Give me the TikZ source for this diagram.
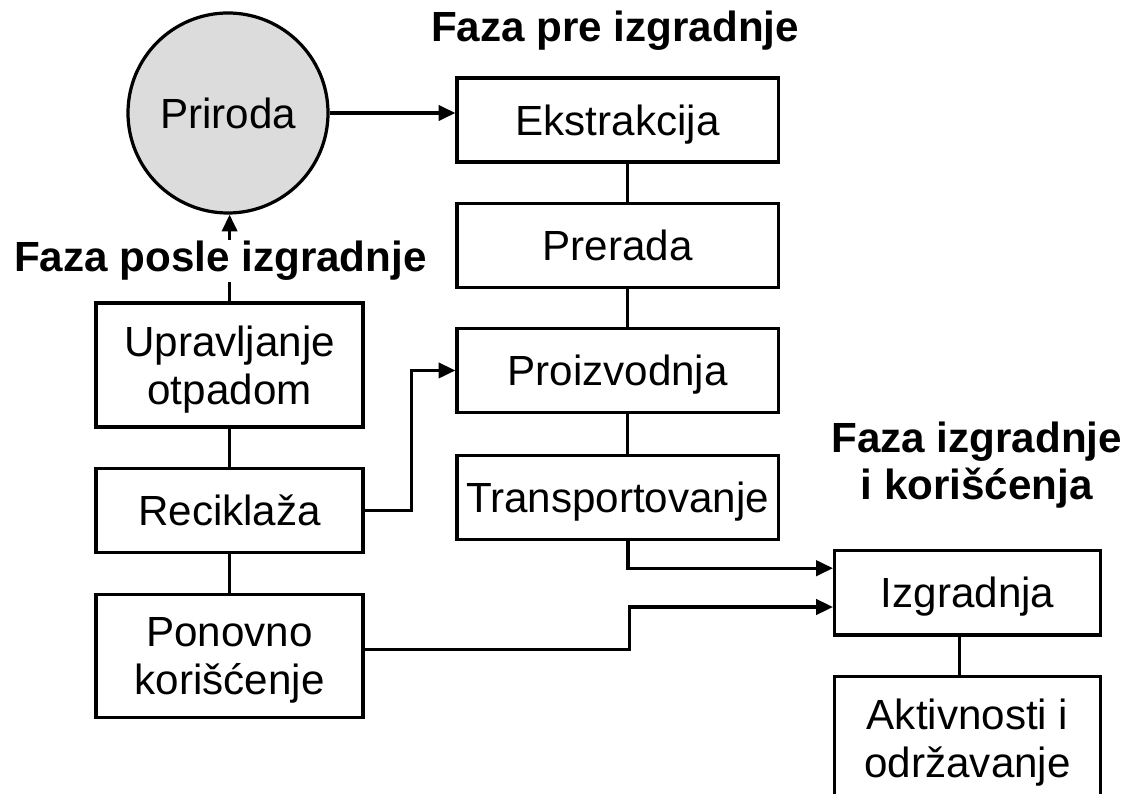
\documentclass[tikz,border=0pt]{standalone}
\usepackage{fontspec}
\setmainfont{Liberation Sans}
\usepackage{tikz}
\usetikzlibrary{arrows.meta,positioning,calc}
\definecolor{naturegray}{HTML}{DCDCDC}

\begin{document}
\begin{tikzpicture}[
    x=1cm,y=1cm,
    line join=miter,
    stagebox/.style={draw=black, line width=2.3pt, fill=white, inner sep=2pt, align=center, text depth=0pt, font=\fontsize{30}{34.5}\selectfont},
    colbox/.style={stagebox, minimum width=8.03cm, minimum height=2.1cm},
    leftbox/.style={stagebox, minimum width=6.675cm},
    rightbox/.style={stagebox, minimum width=6.65cm},
    nature/.style={circle, draw=black, line width=2.3pt, fill=naturegray, minimum size=5cm, inner sep=0pt, font=\fontsize{30}{34.5}\selectfont},
    phase/.style={font=\bfseries\fontsize{30}{34}\selectfont, align=center},
    flow/.style={-{Triangle[length=4.2mm,width=3.8mm]}, line width=2.3pt},
    link/.style={line width=2.3pt}
]
\useasboundingbox (0,0) rectangle (28.15,19.825);

% Nature
\node[nature] (pri) at (5.70,17.0) {Priroda};

% Pre-construction column
\node[colbox] (ekst) at (15.44,16.825) {Ekstrakcija};
\node[colbox, below=0.95cm of ekst] (prer) {Prerada};
\node[colbox, below=0.95cm of prer] (proiz) {Proizvodnja};
\node[colbox, below=1.0cm of proiz] (trans) {Transportovanje};

% Post-construction column
\node[leftbox, minimum height=3.1cm] (upr) at (5.74,10.7) {Upravljanje\\otpadom};
\node[leftbox, minimum height=2.1cm, below=0.95cm of upr] (rec) {Reciklaža};
\node[leftbox, minimum height=3.08cm, below=0.97cm of rec] (pon) {Ponovno\\korišćenje};

% Construction and use column
\node[rightbox, minimum height=2.12cm] (izg) at (24.19,5.01) {Izgradnja};
\node[rightbox, minimum height=3.1cm, below=0.95cm of izg] (akt) {Aktivnosti i\\održavanje};

% Connectors
\draw[flow] (pri.east) -- (pri.east -| ekst.west);
\draw[link] ([xshift=0.24cm]ekst.south) -- ([xshift=0.24cm]prer.north);
\draw[link] ([xshift=0.24cm]prer.south) -- ([xshift=0.24cm]proiz.north);
\draw[link] ([xshift=0.24cm]proiz.south) -- ([xshift=0.24cm]trans.north);
\draw[link] (upr.south) -- (rec.north);
\draw[link] (rec.south) -- (pon.north);
\draw[link] ([xshift=-0.21cm]izg.south) -- ([xshift=-0.21cm]akt.north);
\draw[flow] (upr.north) -- (upr.north |- pri.south);
\draw[flow] (rec.east) -- ++(1.175,0) |- (proiz.west);
\draw[flow] ([xshift=0.26cm]trans.south) |- ([yshift=0.61cm]izg.west);
\draw[flow] ([yshift=0.16cm]pon.east) -- ++(6.625,0) |- ([yshift=-0.36cm]izg.west);

% Phase titles
\node[phase, anchor=base] (prephase) at (15.375,18.775) {Faza pre izgradnje};
\node[phase, anchor=base, fill=white, inner sep=1pt] (postphase) at (5.51,13.025) {Faza posle izgradnje};
\node[phase, anchor=base] (usephase) at (24.42,7.33) {Faza izgradnje\\i korišćenja};

\end{tikzpicture}
\end{document}
